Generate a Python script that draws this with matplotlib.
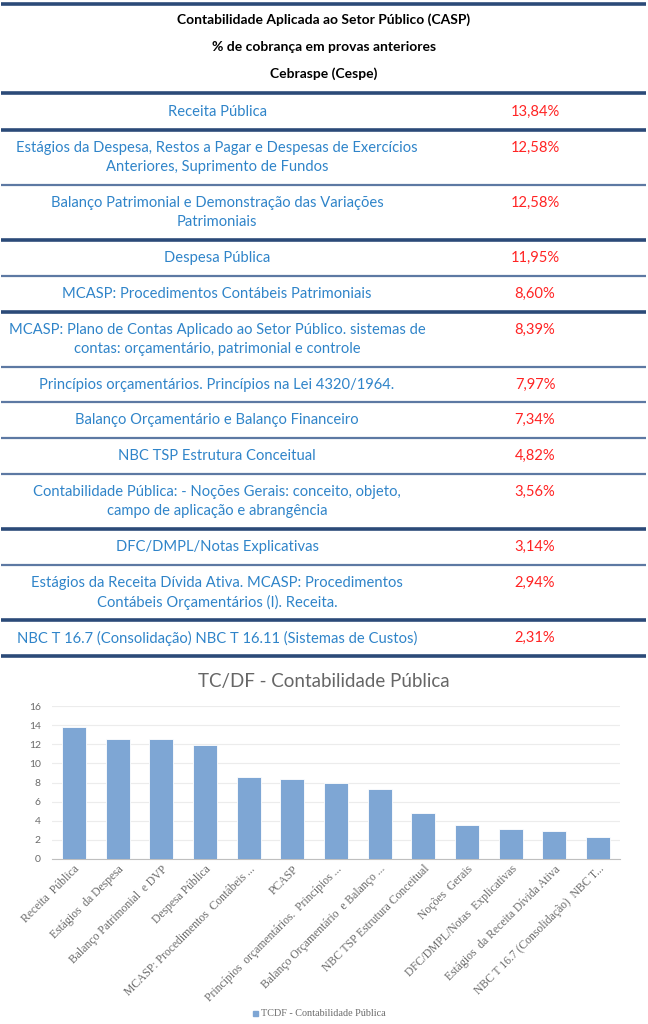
import matplotlib
matplotlib.use("Agg")
import matplotlib.pyplot as plt
from matplotlib.lines import Line2D
from matplotlib.patches import Rectangle

# ---------------- data ----------------
header_lines = ["Contabilidade Aplicada ao Setor Público (CASP)",
                "% de cobrança em provas anteriores",
                "Cebraspe (Cespe)"]

topics = [
    "Receita Pública",
    "Estágios da Despesa, Restos a Pagar e Despesas de Exercícios\nAnteriores, Suprimento de Fundos",
    "Balanço Patrimonial e Demonstração das Variações\nPatrimoniais",
    "Despesa Pública",
    "MCASP: Procedimentos Contábeis Patrimoniais",
    "MCASP: Plano de Contas Aplicado ao Setor Público. sistemas de\ncontas: orçamentário, patrimonial e controle",
    "Princípios orçamentários. Princípios na Lei 4320/1964.",
    "Balanço Orçamentário e Balanço Financeiro",
    "NBC TSP Estrutura Conceitual",
    "Contabilidade Pública: - Noções Gerais: conceito, objeto,\ncampo de aplicação e abrangência",
    "DFC/DMPL/Notas Explicativas",
    "Estágios da Receita Dívida Ativa. MCASP: Procedimentos\nContábeis Orçamentários (I). Receita.",
    "NBC T 16.7 (Consolidação) NBC T 16.11 (Sistemas de Custos)",
]
pct_labels = ["13,84%", "12,58%", "12,58%", "11,95%", "8,60%", "8,39%", "7,97%",
              "7,34%", "4,82%", "3,56%", "3,14%", "2,94%", "2,31%"]

chart_title = "TC/DF - Contabilidade Pública"
categories = ["Receita  Pública", "Estágios  da Despesa", "Balanço Patrimonial  e DVP",
              "Despesa Pública", "MCASP: Procedimentos  Contábeis ...", "PCASP",
              "Princípios  orçamentários.  Princípios ...", "Balanço Orçamentário  e Balanço ...",
              "NBC TSP Estrutura Conceitual", "Noções  Gerais", "DFC/DMPL/Notas  Explicativas",
              "Estágios  da Receita Dívida Ativa", "NBC T 16.7 (Consolidação)  NBC T..."]
values = [13.84, 12.58, 12.58, 11.95, 8.60, 8.39, 7.97, 7.34, 4.82, 3.56, 3.14, 2.94, 2.31]
yticks = [0, 2, 4, 6, 8, 10, 12, 14, 16]
legend_label = "TCDF - Contabilidade Pública"

# ---------------- layout ----------------
W, H = 648, 1024
fig = plt.figure(figsize=(W / 100, H / 100), dpi=100)
fig.patch.set_facecolor("white")

def fy(y):
    return 1 - y / H

def fx(x):
    return x / W

SANS = ["Lato", "DejaVu Sans"]
SERIF = ["Liberation Serif", "DejaVu Serif"]
BLUE_TXT = "#2f84c9"
RED_TXT = "#ff2424"
DARK_LINE = "#2b4a78"
MED_LINE = "#5d79a3"
FS = 10.6

# header
for i, t in enumerate(header_lines):
    fig.text(fx(324), fy(20 + 27 * i), t, ha="center", va="center",
             fontsize=10, fontweight="bold", family=SANS, color="black")

bounds = [93, 130, 185, 240, 276, 312, 367, 402, 438, 474, 529, 565, 620, 656]
dark_set = {4, 93, 130, 240, 312, 529, 620, 656}
for y in [4] + bounds:
    dark = y in dark_set
    fig.add_artist(Line2D([fx(1), fx(646)], [fy(y), fy(y)],
                          color=DARK_LINE if dark else MED_LINE,
                          lw=2.6 if dark else 1.6, solid_capstyle="butt"))

for i, (t, p) in enumerate(zip(topics, pct_labels)):
    top, bot = bounds[i], bounds[i + 1]
    if "\n" in t:
        l1, l2 = t.split("\n")
        fig.text(fx(217), fy(top + 18), l1, ha="center", va="center",
                 fontsize=FS, family=SANS, color=BLUE_TXT)
        fig.text(fx(217), fy(top + 37), l2, ha="center", va="center",
                 fontsize=FS, family=SANS, color=BLUE_TXT)
        fig.text(fx(535), fy(top + 18), p, ha="center", va="center",
                 fontsize=FS, family=SANS, color=RED_TXT)
    else:
        yc = (top + bot) / 2
        fig.text(fx(217), fy(yc), t, ha="center", va="center",
                 fontsize=FS, family=SANS, color=BLUE_TXT)
        fig.text(fx(535), fy(yc), p, ha="center", va="center",
                 fontsize=FS, family=SANS, color=RED_TXT)

# chart
fig.text(fx(324), fy(682), chart_title, ha="center", va="center",
         fontsize=13.5, family=SANS, color="#666666")

ax = fig.add_axes([fx(52), fy(859), (620 - 52) / W, (859 - 706) / H])
x = list(range(len(values)))
ax.bar(x, values, width=0.55, color="#7ea6d4", edgecolor="white", linewidth=0.6, zorder=3)
ax.set_xlim(-0.5, len(values) - 0.5)
ax.set_ylim(0, 16)
ax.set_yticks(yticks)
ax.set_yticklabels([str(v) for v in yticks], fontsize=7.5, family=SANS, color="#6b6b6b")
ax.yaxis.grid(True, color="#ececec", lw=0.8, zorder=0)
ax.set_axisbelow(True)
for s in ["top", "right", "left"]:
    ax.spines[s].set_visible(False)
ax.spines["bottom"].set_color("#bfbfbf")
ax.tick_params(axis="y", length=0, pad=8)
ax.tick_params(axis="x", length=0, pad=3)
ax.set_xticks(x)
ax.set_xticklabels(categories, rotation=45, ha="right", rotation_mode="anchor",
                   fontsize=8.4, family=SERIF, color="#6b6b6b")

# legend
fig.add_artist(Rectangle((fx(253), fy(1016)), 5 / W, 5 / H, color="#7ea6d4",
                         transform=fig.transFigure))
fig.text(fx(261), fy(1013), legend_label, ha="left", va="center",
         fontsize=7.3, family=SERIF, color="#6b6b6b")

fig.savefig("out.png", dpi=100, facecolor="white")
